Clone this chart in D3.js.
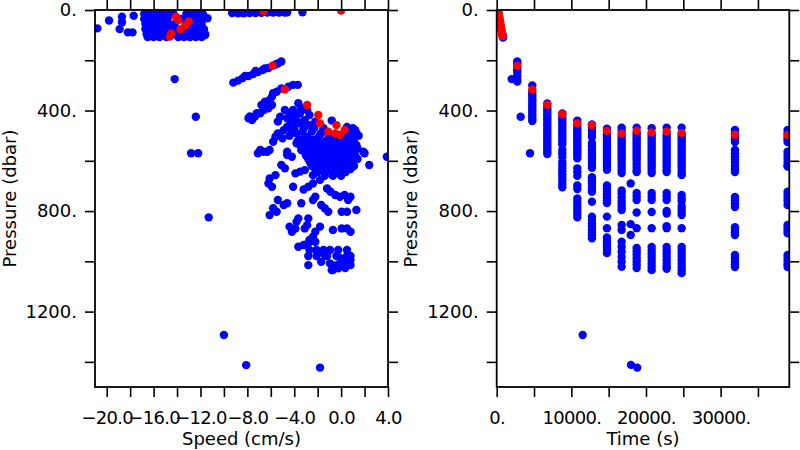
<!DOCTYPE html>
<html><head><meta charset="utf-8">
<script src="https://cdn.jsdelivr.net/npm/d3@7"></script>
<style>
body{margin:0;background:#fff}
svg{display:block}
</style>
</head><body>
<svg id="chart" width="800" height="450"></svg>
<script>
// ---------- AXIS TICKS ----------
const speedTicks = [-20, -16, -12, -8, -4, 0, 4];
const speedMinorTicks = [-20, -18, -16, -14, -12, -10, -8, -6, -4, -2, 0, 2, 4];
const pressureTicks = [0, 400, 800, 1200];
const pressureMinorTicks = [0, 200, 400, 600, 800, 1000, 1200, 1400];
const timeTicks = [0, 10000, 20000, 30000];
const timeMinorTicks = [0, 5000, 10000, 15000, 20000, 25000, 30000, 35000];

// ---------- LEFT PANEL DATA: speed (cm/s) vs pressure (dbar) ----------
const speedPressureBlue = [
  // upper-left cluster & outliers
  [-20.8,73],[-19.8,42],[-18.7,27],[-18.7,49],[-18.9,76],[-18.2,89],[-17.8,89],[-17.7,23],[-11.4,33],[-12.0,13],[-11.6,100],
  [-16.8,16],[-16.3,16],[-15.8,16],[-15.3,16],[-14.8,16],[-14.3,16],[-13.2,16],[-12.7,16],[-12.2,16],[-11.8,16],
  [-16.8,36],[-16.3,36],[-15.8,36],[-15.3,36],[-14.8,36],[-13.7,36],[-13.2,36],[-12.7,36],[-12.2,36],[-11.8,36],
  [-16.7,56],[-16.2,56],[-15.7,56],[-15.2,56],[-14.7,56],[-14.2,56],[-12.8,56],[-12.3,56],[-11.9,56],
  [-16.7,76],[-16.2,76],[-15.7,76],[-15.2,76],[-14.7,76],[-14.2,76],[-13.2,76],[-12.6,76],[-12.1,76],[-11.7,76],
  [-16.6,95],[-16.1,95],[-15.6,95],[-15.1,95],[-14.1,95],[-13.6,95],[-13.1,95],[-12.6,95],[-12.0,95],[-11.6,95],
  [-16.5,108],[-16.0,108],[-15.5,108],[-14.9,108],[-13.9,108],[-13.4,108],[-12.9,108],[-12.4,108],[-11.9,108],
  // surface band
  [-9.3,12],[-8.8,13],[-8.3,13],[-7.8,12],[-7.3,12],[-6.8,11],[-6.3,10],[-5.8,10],[-5.3,10],[-4.8,10],[-4.6,9],[-3.3,9],
  // band 1
  [-9.2,289],[-8.8,281],[-8.4,271],[-7.9,263],[-7.5,255],[-7.1,247],[-6.7,239],[-6.2,231],[-5.4,213],[-5.1,205],
  [-8.2,262],[-7.3,243],[-6.5,233],[-5.6,217],
  // band 2
  [-7.6,438],[-7.8,424],[-7.35,424],[-6.9,411],[-6.8,378],[-6.5,365],[-6.1,358],[-6.2,391],[-5.8,331],[-5.5,325],
  [-5.1,312],[-4.5,305],[-4.1,298],[-3.7,298],[-6.6,398],[-5.9,378],[-7.9,431],[-7.2,411],[-6.4,371],[-5.9,345],
  // band 3 and upper mass
  [-3.65,371],[-3.4,391],[-4.1,398],[-4.8,398],[-5.2,425],[-5.4,444],[-4.6,431],[-4.4,418],[-3.9,425],[-3.5,411],
  [-2.9,398],[-2.7,418],[-3.1,438],[-3.5,451],[-4.1,458],[-4.6,464],[-4.9,478],[-5.4,491],[-5.6,504],[-5.8,524],
  [-6.1,557],[-6.9,557],[-7.1,570],[-6.6,564],[-4.6,564],[-3.4,557],[-4.2,484],[-3.8,491],[-3.2,471],[-2.7,458],
  [-2.2,444],[-2.5,484],[-2.9,504],[-3.4,517],[-3.8,530],[-2.4,517],[-1.8,497],[-1.5,478],[-1.95,530],[-1.2,517],
  [-0.7,504],[-0.5,530],[0.2,517],[0.6,484],[0.9,511],[0.8,544],[1.3,544],[1.9,564],[-0.95,557],[-0.1,557],
  [-2.7,557],[-1.5,557],[-0.8,440],[0.5,465],[1.2,478],[-1.5,470],[0.9,495],[1.5,500],[1.3,491],[1.0,470],
  [-4.3,440],[-3.7,445],[-3.0,455],[-2.3,470],[-1.7,490],[-1.0,500],[-3.3,485],[-4.0,470],[-2.0,510],[-2.9,520],
  [-1.4,530],[-0.6,515],[-0.2,500],[0.3,500],[-4.4,500],[-5.0,510],
  // dense mass
  [-3.7,521],[-3.1,521],[-2.5,521],[-1.9,521],[-1.3,521],[-0.7,521],[-0.1,521],[0.5,521],[1.1,521],
  [-3.5,537],[-2.9,537],[-2.3,537],[-1.7,537],[-1.1,537],[-0.5,537],[0.1,537],[0.7,537],[1.3,537],
  [-3.25,551],[-2.7,551],[-2.1,551],[-1.5,551],[-0.9,551],[-0.3,551],[0.3,551],[0.9,551],[1.4,551],
  [-3.1,565],[-2.5,565],[-1.9,565],[-1.3,565],[-0.7,565],[-0.1,565],[0.5,565],[1.1,565],
  [-3.0,579],[-2.4,579],[-1.8,579],[-1.2,579],[-0.6,579],[0.0,579],[0.6,579],[1.2,579],
  [-2.8,593],[-2.2,593],[-1.6,593],[-1.0,593],[-0.4,593],[0.2,593],[0.8,593],[1.4,593],
  [-2.65,607],[-2.05,607],[-1.45,607],[-0.85,607],[-0.25,607],[0.35,607],[0.95,607],
  [-2.5,621],[-1.9,621],[-1.3,621],[-0.7,621],[-0.1,621],[0.5,621],[1.1,621],
  [-2.2,633],[-1.6,633],[-1.0,633],[-0.4,633],[0.2,633],[0.8,633],
  [-2.0,645],[-1.4,645],[-0.8,645],[-0.2,645],[0.4,645],
  [-1.4,660],[-0.7,660],[0.0,660],
  // lower scatter
  [-6.3,564],[-4.6,577],[-4.2,584],[2.0,570],[2.4,617],[3.9,584],[-5.1,617],[-4.8,630],[-3.9,650],[-3.5,643],
  [-3.1,637],[-2.4,657],[-1.8,676],[-6.1,670],[-5.6,657],[-6.2,690],[-5.9,703],[-4.1,703],[-3.2,714],[-2.8,703],
  [-2.4,690],[-1.2,710],[-0.9,723],[-0.5,736],[-0.1,743],[0.3,736],[0.8,743],[0.6,756],[-2.4,756],[-2.2,743],
  [-3.4,769],[-1.7,776],[-1.4,789],[-1.1,803],[0.05,803],[0.5,803],[1.3,796],[-4.9,776],[-4.6,769],[-5.4,756],
  [-5.8,789],[-5.5,803],[-6.1,816],[-3.65,829],[-3.8,842],[-4.4,862],[-4.2,882],[-3.9,869],[-2.8,829],[-2.9,856],
  [-3.1,869],[-1.8,862],[-2.2,882],[-2.4,902],[-2.7,915],[-0.7,875],[0.05,869],[0.5,869],[0.8,882],
  [-3.65,942],[-3.2,935],[-2.8,928],[-2.2,922],
  [-2.7,955],[-2.1,955],[-1.5,955],[-0.95,955],[-0.25,955],[0.5,955],
  [-2.8,979],[-2.1,979],[-1.2,979],[-0.4,979],[0.5,979],[0.8,979],
  [-2.8,1015],[-1.7,1002],[-0.95,1008],[-0.4,1015],[0.05,1008],[0.5,995],[-0.7,1035],[-0.25,1028],[-0.8,1035],[0.8,995],
  [-1.4,975],[-0.1,987],[0.35,1027],[0.8,1015],[-2.0,967],
  // isolated
  [-14.2,275],[-12.4,425],[-12.8,570],[-12.2,570],[-11.3,825],[-10.0,1293],[-8.1,1413],[-1.8,1423]
];

const speedPressureRed = [
  [-14.1,27],[-13.9,40],[-13.0,46],[-13.3,62],[-13.7,76],[-14.5,93],[-14.6,106],[-6.6,4],[0.0,2],
  [-5.85,222],[-4.8,316],[-2.9,378],[-1.95,418],[-1.8,451],[-1.1,484],[-0.5,491],[-0.1,497],[-0.4,458],[0.3,478]
];

// ---------- RIGHT PANEL DATA: time (s) vs pressure (dbar) ----------
const profileTimes = [2760, 4770, 6780, 8790, 10800, 12760, 14770, 16740, 18750, 20760, 22770, 24780, 31920, 38970];
const profileTopPressure = [222, 316, 377, 415, 451, 458, 481, 491, 481, 487, 484, 489, 496, 497];
const profilePressures = [
  [205,212,230,240,250,262,275,285],
  [300,325,335,345,355,365,375,385,395,405,415,425,435,442],
  [372,385,395,405,415,425,435,445,455,465,475,485,495,505,515,525,535,545,555,565,573],
  [412,425,435,445,455,465,475,485,495,505,515,525,535,557,570,585,605,617,630,642,655,667,680,692,705],
  [440,460,470,480,490,500,510,520,530,540,550,560,570,580,590,630,645,660,698,712,750,762,775,788,800,812,825],
  [455,468,480,492,505,530,542,555,568,580,592,605,617,628,665,678,690,703,715,723,763,822,835,848,860,872,885,897,908],
  [472,495,505,515,525,535,545,555,565,575,585,595,605,615,625,636,698,710,722,734,746,758,768,822,868,905,918,930,942,955,967],
  [468,480,500,510,520,530,540,550,560,570,580,590,600,612,625,637,649,718,730,745,760,772,785,796,855,875,922,942,962,982,1002,1022],
  [468,490,500,510,520,530,540,550,560,570,580,590,600,612,625,637,645,728,742,756,806,868,947,960,973,987,1000,1013,1027],
  [470,495,505,515,525,535,545,555,565,575,585,595,605,615,625,637,649,728,742,756,804,868,943,957,970,983,997,1010,1022,1035],
  [468,495,505,515,525,535,545,555,565,575,585,595,605,615,625,637,645,728,742,756,800,810,860,868,943,957,970,983,997,1010,1022,1030],
  [468,495,505,515,525,535,545,555,565,575,585,595,605,615,625,637,649,657,736,748,760,780,792,804,816,868,943,957,970,983,997,1010,1022,1035,1047],
  [477,490,505,515,525,557,570,583,595,608,620,633,645,744,757,770,784,864,875,885,895,975,987,1000,1012,1023],
  [477,490,505,515,525,564,577,590,605,618,623,723,735,748,760,776,855,866,877,888,975,987,1000,1012,1023]
];
const descentTimeRed = [200,245,290,335,380,425,470,515,560,605,650,695,740,785];
const descentPressRed = [2,10,18,26,34,42,50,58,66,74,82,90,97,104];
const extraTimeBlue = [810,840,860,2000,3210,4460,11520,17950,17950,17950,17990,18830];
const extraPressBlue = [100,106,110,275,425,570,1293,690,852,895,1412,1423];

// ---------- DRAWING ----------
const BLUE = "#0000ff", RED = "#ff0000", R = 4.2;
const svg = d3.select("#chart");
const FONT = "DejaVu Sans, sans-serif";

function drawPanel(cfg) {
  const {x, y, xLabels, xMinor, xFmt, xTitle, yTitleX, id} = cfg;
  const [x0, x1] = x.range(), [y0, y1] = y.range();
  const g = svg.append("g");
  svg.append("clipPath").attr("id", id).append("rect")
    .attr("x", x0).attr("y", y0).attr("width", x1 - x0).attr("height", y1 - y0);

  const tickLen = 10;
  const styleAxis = a => {
    a.select(".domain").remove();
    a.selectAll("line").attr("stroke", "#000").attr("stroke-width", 1.6);
    a.selectAll("text").attr("font-family", FONT).attr("font-size", 18).attr("fill", "#000");
  };
  g.append("g").attr("transform", `translate(0,${y1})`)
    .call(d3.axisBottom(x).tickValues(xMinor).tickSize(tickLen).tickPadding(14)
      .tickFormat(d => xLabels.includes(d) ? xFmt(d) : ""))
    .call(styleAxis)
    .call(a => a.selectAll("text").attr("letter-spacing", -0.7));
  g.append("g").attr("transform", `translate(0,${y0})`)
    .call(d3.axisTop(x).tickValues(xMinor).tickSize(tickLen).tickFormat(""))
    .call(styleAxis);
  g.append("g").attr("transform", `translate(${x0},0)`)
    .call(d3.axisLeft(y).tickValues(pressureMinorTicks).tickSize(tickLen).tickPadding(8)
      .tickFormat(d => pressureTicks.includes(d) ? d + "." : ""))
    .call(styleAxis);
  g.append("g").attr("transform", `translate(${x1},0)`)
    .call(d3.axisRight(y).tickValues(pressureMinorTicks).tickSize(tickLen).tickFormat(""))
    .call(styleAxis);

  const pts = g.append("g").attr("clip-path", `url(#${id})`);
  cfg.drawPoints(pts);

  g.append("rect").attr("x", x0).attr("y", y0).attr("width", x1 - x0).attr("height", y1 - y0)
    .attr("fill", "none").attr("stroke", "#000").attr("stroke-width", 1.8);

  g.append("text").attr("x", (x0 + x1) / 2).attr("y", 445).attr("text-anchor", "middle")
    .attr("font-family", FONT).attr("font-size", 18).text(xTitle);
  g.append("text").attr("transform", `translate(${yTitleX},${(y0 + y1) / 2}) rotate(-90)`)
    .attr("text-anchor", "middle").attr("font-family", FONT).attr("font-size", 18).text("Pressure (dbar)");
}

// left panel
const xS = d3.scaleLinear().domain([-21, 4]).range([95, 388]);
const yP = d3.scaleLinear().domain([0, 1500]).range([10, 387]);
drawPanel({
  id: "clipL", x: xS, y: yP, xLabels: speedTicks, xMinor: speedMinorTicks,
  xFmt: d3.format(".1f"), xTitle: "Speed (cm/s)", yTitleX: 16,
  drawPoints: g => {
    g.selectAll("circle.b").data(speedPressureBlue).join("circle").attr("class", "b")
      .attr("cx", d => xS(d[0])).attr("cy", d => yP(d[1])).attr("r", R).attr("fill", BLUE);
    g.selectAll("circle.r").data(speedPressureRed).join("circle").attr("class", "r")
      .attr("cx", d => xS(d[0])).attr("cy", d => yP(d[1])).attr("r", R).attr("fill", RED);
  }
});

// right panel
const xT = d3.scaleLinear().domain([0, 39200]).range([496.7, 789.3]);
const blueT = [];
profileTimes.forEach((t, i) => profilePressures[i].forEach(p => blueT.push([t, p])));
extraTimeBlue.forEach((t, i) => blueT.push([t, extraPressBlue[i]]));
const redT = profileTimes.map((t, i) => [t, profileTopPressure[i]])
  .concat(descentTimeRed.map((t, i) => [t, descentPressRed[i]]));
drawPanel({
  id: "clipR", x: xT, y: yP, xLabels: timeTicks, xMinor: timeMinorTicks,
  xFmt: d => d + ".", xTitle: "Time (s)", yTitleX: 417,
  drawPoints: g => {
    g.selectAll("circle.b").data(blueT).join("circle").attr("class", "b")
      .attr("cx", d => xT(d[0])).attr("cy", d => yP(d[1])).attr("r", R).attr("fill", BLUE);
    g.selectAll("circle.r").data(redT).join("circle").attr("class", "r")
      .attr("cx", d => xT(d[0])).attr("cy", d => yP(d[1])).attr("r", R).attr("fill", RED);
  }
});
</script>
</body></html>
